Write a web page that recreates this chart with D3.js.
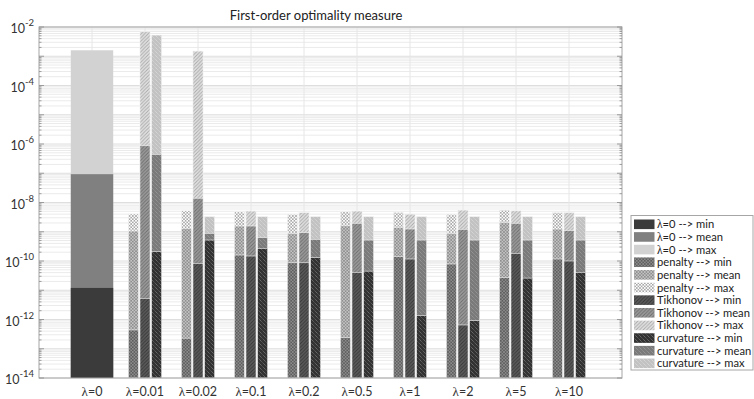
<!DOCTYPE html>
<html><head><meta charset="utf-8">
<script src="https://cdn.jsdelivr.net/npm/d3@7"></script>
<style>
html,body{margin:0;padding:0;background:#fff;}
svg{display:block;font-family:Lato,"Open Sans",sans-serif;}
</style></head>
<body><svg id="chart" width="754" height="399"></svg>
<script>
// ---- data ----
const lambdaLabels = ["0","0.01","0.02","0.1","0.2","0.5","1","2","5","10"];
const statNames = ["min","mean","max"];
// lambda = 0 (single stacked bar)
const baseMin = [1.2e-11];
const baseMean = [9.3e-8];
const baseMax = [1.6e-3];
// lambda = 0.01 ... 10
const penaltyMin  = [4.4e-13, 2.3e-13, 1.6e-10, 8.7e-11, 2.4e-13, 1.4e-10, 7.9e-11, 2.7e-11, 1.17e-10];
const penaltyMean = [1.06e-9, 1.31e-9, 1.57e-9, 8.85e-10, 1.6e-9, 1.42e-9, 8.85e-10, 2.1e-9, 1.24e-9];
const penaltyMax  = [4.05e-9, 5.2e-9, 4.8e-9, 3.95e-9, 4.8e-9, 4.6e-9, 3.95e-9, 5.5e-9, 4.5e-9];
const tikhonovMin  = [5.3e-12, 8.3e-11, 1.48e-10, 8.7e-11, 4.1e-11, 1.17e-10, 6.5e-13, 1.83e-10, 1.0e-10];
const tikhonovMean = [8.7e-7, 1.4e-8, 1.57e-9, 9.3e-10, 1.95e-9, 1.24e-9, 1.21e-9, 1.95e-9, 1.09e-9];
const tikhonovMax  = [6.9e-3, 1.5e-3, 5.1e-9, 4.5e-9, 5.1e-9, 4.0e-9, 5.5e-9, 5.2e-9, 4.5e-9];
const curvatureMin  = [2.1e-10, 5.2e-10, 2.7e-10, 1.3e-10, 4.5e-11, 1.35e-12, 9.1e-13, 2.6e-11, 4.1e-11];
const curvatureMean = [4.4e-7, 8.85e-10, 6.3e-10, 5.5e-10, 5.2e-10, 5.2e-10, 5.2e-10, 5.2e-10, 5.2e-10];
const curvatureMax  = [5.3e-3, 3.3e-9, 3.3e-9, 3.3e-9, 3.3e-9, 3.3e-9, 3.3e-9, 3.3e-9, 3.3e-9];
const yTickExponents = [-14,-12,-10,-8,-6,-4,-2];

// ---- styles ----
const methods = [
  {key:"penalty",  name:"penalty",  vals:[penaltyMin, penaltyMean, penaltyMax], kind:"cross",
   bg:["#8c8c8c","#c4c4c4","#ffffff"], fg:["#5e5e5e","#8e8e8e","#a8a8a8"]},
  {key:"tikhonov", name:"Tikhonov", vals:[tikhonovMin, tikhonovMean, tikhonovMax], kind:"fwd",
   bg:["#5c5c5c","#9c9c9c","#e2e2e2"], fg:["#363636","#6c6c6c","#a8a8a8"]},
  {key:"curvature",name:"curvature",vals:[curvatureMin, curvatureMean, curvatureMax], kind:"back",
   bg:["#323232","#7a7a7a","#c2c2c2"], fg:["#8c8c8c","#a6a6a6","#e2e2e2"]}
];
const baseColors = ["#3b3b3b","#808080","#d2d2d2"];

const svg = d3.select("#chart");
const L = 39, R = 622, T = 27, B = 378;
const x = d3.scaleLinear().domain([0, 11]).range([L, R]);
const y = d3.scaleLog().domain([1e-14, 1e-2]).range([B, T]);

// patterns
const defs = svg.append("defs");
methods.forEach(m => {
  [0,1,2].forEach(s => {
    const p = defs.append("pattern").attr("id", `p-${m.key}-${s}`)
      .attr("patternUnits","userSpaceOnUse");
    if (m.kind === "cross") {
      p.attr("width",3.2).attr("height",3.2);
      p.append("rect").attr("width",3.2).attr("height",3.2).attr("fill",m.bg[s]);
      p.append("path").attr("d","M0,0L3.2,3.2M3.2,0L0,3.2").attr("stroke",m.fg[s]).attr("stroke-width",0.8);
    } else if (m.kind === "fwd") {
      p.attr("width",3.5).attr("height",3.5);
      p.append("rect").attr("width",3.5).attr("height",3.5).attr("fill",m.bg[s]);
      p.append("path").attr("d","M-1,1L1,-1M0,3.5L3.5,0M2.5,4.5L4.5,2.5").attr("stroke",m.fg[s]).attr("stroke-width",0.9);
    } else {
      p.attr("width",4).attr("height",4);
      p.append("rect").attr("width",4).attr("height",4).attr("fill",m.bg[s]);
      p.append("path").attr("d","M0,0L4,4M-1,3L1,5M3,-1L5,1").attr("stroke",m.fg[s]).attr("stroke-width",0.7).attr("stroke-dasharray","1.2,0.8");
    }
  });
});

// grid
const minor = [];
for (let e = -14; e < -2; e++) for (let k = 2; k <= 9; k++) minor.push(k * Math.pow(10, e));
const decades = d3.range(-14, -1).map(e => Math.pow(10, e));
const grid = svg.append("g");
grid.selectAll("line.mn").data(minor).join("line")
  .attr("x1", L).attr("x2", R).attr("y1", d => y(d)).attr("y2", d => y(d))
  .attr("stroke", "#ebebeb").attr("stroke-width", 1);
grid.selectAll("line.mj").data(decades).join("line")
  .attr("x1", L).attr("x2", R).attr("y1", d => y(d)).attr("y2", d => y(d))
  .attr("stroke", "#dedede").attr("stroke-width", 1);
grid.selectAll("line.vx").data(lambdaLabels).join("line")
  .attr("x1", (d,i) => x(i+1)).attr("x2", (d,i) => x(i+1)).attr("y1", T).attr("y2", B)
  .attr("stroke", "#e6e6e6").attr("stroke-width", 1);

// bars
const bars = svg.append("g");
const bw0 = 0.8;
[baseMax, baseMean, baseMin].forEach((arr, j) => {
  const s = 2 - j;
  bars.selectAll(null).data(arr).join("rect")
    .attr("x", x(1 - bw0/2)).attr("width", x(bw0) - x(0))
    .attr("y", d => y(d)).attr("height", d => B - y(d))
    .attr("fill", baseColors[s]);
});
const off = 0.219, bw = 0.19;
methods.forEach((m, mi) => {
  [2,1,0].forEach(s => {
    bars.selectAll(null).data(m.vals[s]).join("rect")
      .attr("x", (d,i) => x(i + 2 + (mi - 1) * off - bw/2))
      .attr("width", x(bw) - x(0))
      .attr("y", d => y(d)).attr("height", d => B - y(d))
      .attr("fill", `url(#p-${m.key}-${s})`)
      .attr("stroke", "#f4f4f4").attr("stroke-width", 0.6);
  });
});

// axes box
svg.append("rect").attr("x", L).attr("y", T).attr("width", R - L).attr("height", B - T)
  .attr("fill", "none").attr("stroke", "#a6a6a6").attr("stroke-width", 1);

// ticks
const tk = svg.append("g").attr("stroke", "#8a8a8a").attr("stroke-width", 0.8);
[[L, 1], [R, -1]].forEach(([x0, dir]) => {
  tk.selectAll(null).data(decades).join("line")
    .attr("x1", x0).attr("x2", x0 + dir * 5).attr("y1", d => y(d)).attr("y2", d => y(d));
  tk.selectAll(null).data(minor).join("line")
    .attr("x1", x0).attr("x2", x0 + dir * 2.5).attr("y1", d => y(d)).attr("y2", d => y(d));
});

// y labels
const yl = svg.append("g").attr("fill", "#333");
yTickExponents.forEach(e => {
  const t = yl.append("text").attr("x", 34).attr("y", y(Math.pow(10, e)) + 6)
    .attr("text-anchor", "end").attr("font-size", 12.5);
  t.append("tspan").text("10");
  t.append("tspan").attr("dy", -7).attr("font-size", 9.5).text(String(e));
});

// x labels
const xl = svg.append("g").attr("fill", "#333");
lambdaLabels.forEach((lab, i) => {
  const t = xl.append("text").attr("x", x(i + 1)).attr("y", 396)
    .attr("text-anchor", "middle").attr("font-size", 12.5);
  t.append("tspan").attr("font-family", "'Liberation Serif','DejaVu Serif',serif").attr("font-size", 13).text("λ");
  t.append("tspan").text("=" + lab);
});

// title
svg.append("text").attr("x", 316).attr("y", 20).attr("text-anchor", "middle")
  .attr("font-size", 13).attr("fill", "#222").text("First-order optimality measure");

// legend
const items = [];
statNames.forEach((s, si) => items.push({lam:true, label:"=0 --> " + s, fill: baseColors[si]}));
methods.forEach(m => statNames.forEach((s, si) => items.push({lam:false, label: m.name + " --> " + s, fill:`url(#p-${m.key}-${si})`})));
const lg = svg.append("g");
lg.append("rect").attr("x", 631).attr("y", 215.5).attr("width", 122).attr("height", 154.5)
  .attr("fill", "#fff").attr("stroke", "#a6a6a6").attr("stroke-width", 1);
items.forEach((it, i) => {
  const cy = 224.3 + i * 12.64;
  lg.append("rect").attr("x", 634).attr("y", cy - 4.8).attr("width", 20.5).attr("height", 9.6)
    .attr("fill", it.fill);
  const t = lg.append("text").attr("x", 657).attr("y", cy + 4).attr("font-size", 11.2).attr("fill", "#222");
  if (it.lam) t.append("tspan").attr("font-family", "'Liberation Serif','DejaVu Serif',serif").attr("font-size", 11.5).text("λ");
  t.append("tspan").text(it.label);
});
</script></body></html>
